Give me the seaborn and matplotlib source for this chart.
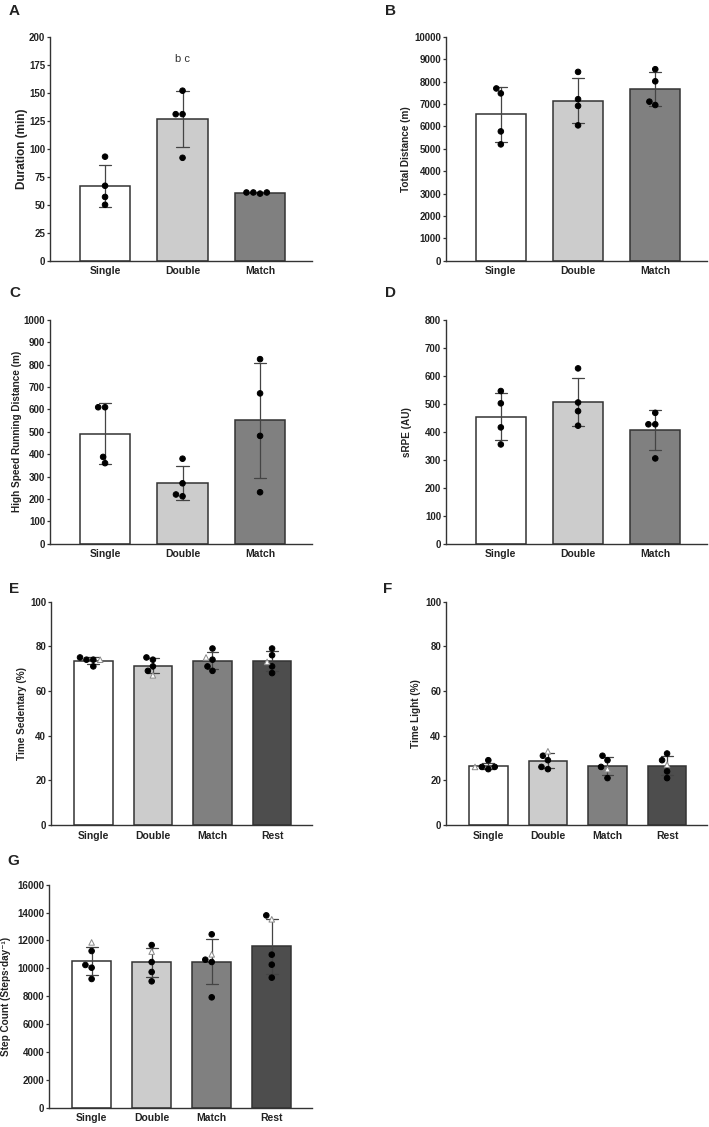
import numpy as np
import pandas as pd
import matplotlib
matplotlib.use("Agg")
import matplotlib.pyplot as plt
import seaborn as sns
from matplotlib.markers import MarkerStyle

groups3 = ["Single", "Double", "Match"]
groups4 = ["Single", "Double", "Match", "Rest"]
colors3 = ["#ffffff", "#cccccc", "#808080"]
colors4 = ["#ffffff", "#cccccc", "#808080", "#4d4d4d"]

# A - session duration (min)
duration = [[93, 67, 57, 50], [152, 131, 131, 92], [60, 61, 61, 61]]
# B - total distance (m)
total_dist = [[7700, 7480, 5780, 5200], [8440, 7220, 6920, 6050], [8560, 8020, 6960, 7110]]
# C - high speed running distance (m)
hsr_dist = [[610, 610, 388, 360], [380, 270, 212, 220], [825, 672, 482, 230]]
# D - sRPE (AU)
srpe = [[546, 502, 416, 355], [627, 505, 474, 422], [468, 427, 427, 305]]
# E - time sedentary (%), dots + one open triangle per group
sed_dots = [[75, 74, 71, 74], [74, 75, 71, 69], [79, 74, 71, 69], [79, 76, 71, 68]]
sed_tri = [74, 67, 75, 73]
# F - time light (%)
light_dots = [[25, 29, 26, 26], [29, 31, 25, 26], [31, 29, 26, 21], [32, 29, 24, 21]]
light_tri = [26, 33, 25, 27]
# G - step count
step_dots = [[11240, 10240, 10045, 9234], [11670, 10450, 9737, 9067],
             [12440, 10620, 10455, 7919], [13800, 10980, 10263, 9330]]
step_tri = [11860, 11200, 11005, 13517]

sns.set_style("ticks")
plt.rcParams['font.family'] = ['Liberation Sans', 'DejaVu Sans']

W, H = 709, 1127
fig = plt.figure(figsize=(W / 100, H / 100), dpi=100)

circ = MarkerStyle("o")
circ_path = circ.get_path().transformed(circ.get_transform())
trim = MarkerStyle("^")
tri_path = trim.get_path().transformed(trim.get_transform())


def add_axes(left, top, right, bottom):
    return fig.add_axes([left / W, 1 - bottom / H, (right - left) / W, (bottom - top) / H])


def panel(box, groups, colors, dots, tri, ylim, step, ylabel, label_px, letter, letter_xy,
          capsize, label_size=7.2):
    ax = add_axes(*box)
    rows = []
    for g, vals in zip(groups, dots):
        for v in vals:
            rows.append((g, v, "dot"))
    if tri is not None:
        for g, v in zip(groups, tri):
            rows.append((g, v, "tri"))
    df = pd.DataFrame(rows, columns=["group", "value", "kind"])

    sns.barplot(data=df, x="group", y="value", hue="group", order=groups, hue_order=groups,
                palette=colors, errorbar="sd", capsize=capsize, width=0.65,
                edgecolor="#333333", linewidth=1.1,
                err_kws={"color": "#444444", "linewidth": 0.9}, legend=False, ax=ax)
    sns.swarmplot(data=df, x="group", y="value", hue="kind", order=groups,
                  palette={"dot": "black", "tri": "white"}, size=4.0, linewidth=0.7,
                  legend=False, ax=ax)

    # open triangles for the extra participant
    for coll in ax.collections:
        fc = coll.get_facecolors()
        if len(fc) == 0:
            continue
        white = fc[:, 0] > 0.5
        coll.set_paths([tri_path if w else circ_path for w in white])
        coll.set_edgecolors(["#8a8a8a" if w else "black" for w in white])
        coll.set_zorder(3)

    n = len(groups)
    ax.set_xlim(-0.71, n - 0.33)
    ax.set_ylim(*ylim)
    ax.set_yticks(np.arange(ylim[0], ylim[1] + step / 2, step))
    sns.despine(ax=ax)
    for s in ["left", "bottom"]:
        ax.spines[s].set_color("#333333")
        ax.spines[s].set_linewidth(1.0)
    ax.tick_params(axis="y", length=2.5, width=0.9, color="#333333", pad=1,
                   labelsize=7, labelcolor="#222222")
    ax.tick_params(axis="x", length=0, pad=4, labelsize=7.5, labelcolor="#222222")
    for t in ax.get_xticklabels() + ax.get_yticklabels():
        t.set_fontweight("bold")
    ax.set_xlabel("")
    ax.set_ylabel(ylabel, fontsize=label_size, fontweight="bold", color="#222222")
    x_right = label_px + label_size * 0.62
    ax.yaxis.set_label_coords((x_right - box[0]) / (box[2] - box[0]), 0.5)
    fig.text(letter_xy[0] / W, 1 - letter_xy[1] / H, letter, fontsize=11, fontweight="bold",
             color="#222222", ha="left", va="center")
    return ax


axA = panel((50, 37, 312, 260.7), groups3, colors3, duration, None, (0, 200), 25,
            "Duration (min)", 23, "A", (9, 11), 0.16, label_size=8.5)
axA.text(1, 180, "b c", ha="center", va="center", fontsize=8, color="#333333")
panel((446, 37, 707, 260.7), groups3, colors3, total_dist, None, (0, 10000), 1000,
      "Total Distance (m)", 407, "B", (385, 11), 0.16)
panel((50, 320, 312, 543.7), groups3, colors3, hsr_dist, None, (0, 1000), 100,
      "High Speed Running Distance (m)", 18, "C", (9, 293), 0.16)
panel((446, 320, 707, 543.7), groups3, colors3, srpe, None, (0, 800), 100,
      "sRPE (AU)", 408, "D", (385, 293), 0.16)
panel((51, 601.6, 312, 825), groups4, colors4, sed_dots, sed_tri, (0, 100), 20,
      "Time Sedentary (%)", 23, "E", (9, 589), 0.2)
panel((446, 601.6, 707, 825), groups4, colors4, light_dots, light_tri, (0, 100), 20,
      "Time Light (%)", 417, "F", (383, 589), 0.2)
panel((49, 884.7, 312, 1107.7), groups4, colors4, step_dots, step_tri, (0, 16000), 2000,
      "Step Count (Steps\u00b7day\u207b\u00b9)", 7, "G", (7, 861), 0.2)

fig.savefig("out.png", dpi=100)
